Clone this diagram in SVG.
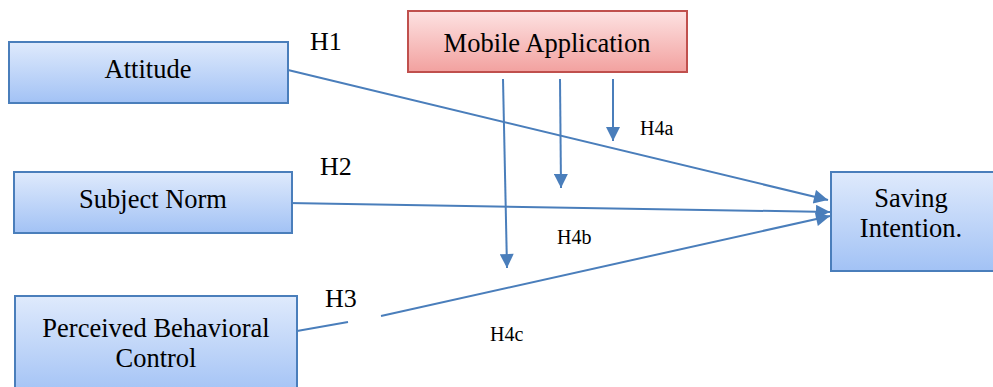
<svg xmlns="http://www.w3.org/2000/svg" width="993" height="387" viewBox="0 0 993 387">
<defs>
<linearGradient id="blue" x1="0" y1="0" x2="0" y2="1"><stop offset="0" stop-color="#dfeafc"/><stop offset="1" stop-color="#a2c2f5"/></linearGradient>
<linearGradient id="red" x1="0" y1="0" x2="0" y2="1"><stop offset="0" stop-color="#fde2e2"/><stop offset="1" stop-color="#f2a19f"/></linearGradient>
<marker id="ah" viewBox="0 0 10 10" refX="10" refY="5" markerWidth="8" markerHeight="7" markerUnits="strokeWidth" orient="auto"><path d="M0,0 L10,5 L0,10 z" fill="#4a7ebb"/></marker>
<style>
.b{fill:url(#blue);stroke:#4a7ebb;stroke-width:2}
.r{fill:url(#red);stroke:#c0504d;stroke-width:2}
text{font-family:"Liberation Serif","Times New Roman",serif;fill:#000}
.t{font-size:26.5px;text-anchor:middle}
.l{font-size:26px}
.s{font-size:20px}
.c{stroke:#4a7ebb;stroke-width:2;fill:none}
</style>
</defs>
<g id="connectors">
<line class="c" x1="288" y1="70" x2="828" y2="200" marker-end="url(#ah)"/>
<line class="c" x1="288" y1="203" x2="830" y2="212" marker-end="url(#ah)"/>
<line class="c" x1="297" y1="331" x2="348" y2="322"/>
<line class="c" x1="381" y1="316" x2="830" y2="216" marker-end="url(#ah)"/>
<line class="c" x1="503" y1="79" x2="507" y2="268" marker-end="url(#ah)"/>
<line class="c" x1="560" y1="79" x2="561" y2="188" marker-end="url(#ah)"/>
<line class="c" x1="613" y1="79" x2="613" y2="141" marker-end="url(#ah)"/>
</g>
<g id="attitude"><rect class="b" x="9" y="42" width="279" height="61"/><text class="t" x="148" y="78">Attitude</text></g>
<g id="mobile"><rect class="r" x="408" y="11" width="279" height="61"/><text class="t" x="547" y="52">Mobile Application</text></g>
<g id="subject"><rect class="b" x="14" y="172" width="278" height="61"/><text class="t" x="153" y="208">Subject Norm</text></g>
<g id="pbc"><rect class="b" x="15" y="296" width="282" height="100"/><text class="t" x="156" y="337">Perceived Behavioral</text><text class="t" x="156" y="367">Control</text></g>
<g id="saving"><rect class="b" x="831" y="172" width="170" height="99"/><text class="t" x="911" y="207">Saving</text><text class="t" x="911" y="237">Intention.</text></g>
<g id="labels">
<text class="l" x="310" y="50">H1</text>
<text class="l" x="320" y="175">H2</text>
<text class="l" x="325" y="307">H3</text>
<text class="s" x="640" y="135">H4a</text>
<text class="s" x="557" y="244">H4b</text>
<text class="s" x="490" y="341">H4c</text>
</g>
</svg>
